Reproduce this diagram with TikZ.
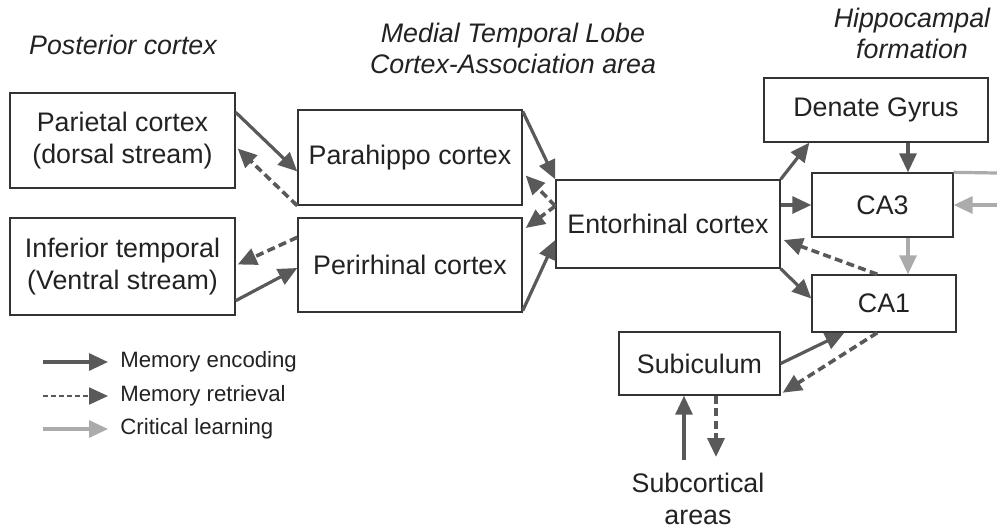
\documentclass[tikz,border=0pt]{standalone}
\usepackage{fontspec}
\setmainfont{Liberation Sans}
\usepackage{xcolor}
\usetikzlibrary{arrows.meta,calc}
\definecolor{ink}    {HTML}{222222}
\definecolor{frame}  {HTML}{333333}
\definecolor{encgray}{HTML}{595959}
\definecolor{lightgr}{HTML}{ABABAB}
\tikzset{
  box/.style     ={draw=frame, fill=white, line width=0.7pt, inner sep=2pt,
                   align=center, text=ink,
                   font=\fontsize{13.4}{16}\selectfont},
  head/.style    ={align=center, text=ink, inner sep=0pt,
                   font=\fontsize{13.4}{15.5}\selectfont\itshape},
  legtext/.style ={anchor=west, text=ink, inner sep=0pt,
                   font=\fontsize{11.1}{13}\selectfont},
  encarr/.style  ={-{Triangle[length=9.5pt,width=8.5pt]}, line width=1.6pt,
                   color=encgray},
  retarr/.style  ={encarr, line width=1.8pt, dash pattern=on 4pt off 2.2pt},
  critarr/.style ={encarr, color=lightgr},
}

\begin{document}
\begin{tikzpicture}[x=0.5pt,y=-0.5pt]
  \useasboundingbox (0,0) rectangle (997,527);

  % column headings
  \node[head] (hpost) at (123,45) {Posterior cortex};
  \node[head] (hmed)  at (513,48) {Medial Temporal Lobe\\Cortex-Association area};
  \node[head] (hhip)  at (912,33) {Hippocampal\\formation};

  % boxes
  \node[box,minimum width=112.5pt,minimum height=47.5pt] (pc)  at (122.5,140.5) {Parietal cortex\\(dorsal stream)};
  \node[box,minimum width=112.5pt,minimum height=48.5pt] (it)  at (122.5,266.5) {Inferior temporal\\(Ventral stream)};
  \node[box,minimum width=112pt,minimum height=47.5pt]   (ph)  at (410,157.5) {Parahippo cortex};
  \node[box,minimum width=112pt,minimum height=47pt]     (pr)  at (410,265) {Perirhinal cortex};
  \node[box,minimum width=112pt,minimum height=44pt]     (ec)  at (668,224) {Entorhinal cortex};
  \node[box,minimum width=112pt,minimum height=32pt]     (dg)  at (876,110) {Denate Gyrus};
  \node[box,minimum width=70.5pt,minimum height=32pt]    (ca3) at (882.5,205) {CA3};
  \node[box,minimum width=72pt,minimum height=28.5pt]    (ca1) at (884,303.5) {CA1};
  \node[box,minimum width=80.5pt,minimum height=31.5pt]  (sub) at (699.5,363.5) {Subiculum};
  \node[box,draw=none,fill=none,inner sep=0pt,anchor=north] (sc) at (698,472) {Subcortical\\areas};

  % posterior cortex <-> MTL
  \draw[encarr] ($(pc.north east)+(0,20)$) -- ($(ph.west)+(0,14)$);
  \draw[retarr] (ph.south west) -- ($(pc.east)+(2,8)$);
  \draw[retarr] ($(pr.north west)+(0,20)$) -- ($(it.east)+(2,-2)$);
  \draw[encarr] ($(it.south east)+(0,-15)$) -- ($(pr.west)+(0,3)$);

  % MTL <-> entorhinal
  \draw[encarr] ($(ph.north east)+(0,2)$) -- (ec.north west);
  \draw[retarr] ($(ec.west)+(0,-18)$) -- ($(ph.east)+(3,18)$);
  \draw[retarr] ($(ec.west)+(0,-18)$) -- ($(pr.east)+(3,-37)$);
  \draw[encarr] ($(pr.south east)+(0,-2)$) -- ($(ec.west)+(0,16)$);

  % entorhinal <-> hippocampus
  \draw[encarr] (ec.north east) -- ($(dg.south west)+(46,0)$);
  \draw[encarr] ($(ec.east)+(0,-19)$) -- (ca3.west);
  \draw[encarr] (ec.south east) -- ($(ca1.west)+(0,-5)$);
  \draw[retarr] ($(ca1.north west)+(66,0)$) -- ($(ec.east)+(3,16)$);
  \draw[encarr] ($(dg.south)+(32,0)$) -- ($(ca3.north)+(25.5,0)$);
  \draw[critarr] ($(ca3.south)+(25.5,0)$) -- ($(ca1.north)+(24,0)$);

  % recurrent input on CA3
  \coordinate (rtop) at (997,173);
  \coordinate (rmid) at (997,205);
  \draw[critarr,-] (ca3.north east) -- (rtop);
  \draw[critarr] (rmid) -- (ca3.east);

  % subiculum
  \draw[encarr] (sub.east) -- ($(ca1.south west)+(33,0)$);
  \draw[retarr] ($(ca1.south west)+(66,0)$) -- ($(sub.south east)+(2,-3)$);
  \draw[encarr] ($(sc.north)+(-14,-12)$) -- ($(sub.south)+(-15.5,0)$);
  \draw[retarr] ($(sub.south)+(16.5,0)$) -- ($(sc.north)+(18,-15)$);

  % legend
  \node[legtext] (lenc) at (120,362) {Memory encoding};
  \node[legtext] (lret) at (120,396) {Memory retrieval};
  \node[legtext] (lcri) at (120,429) {Critical learning};
  \coordinate (s1) at (43,362);
  \coordinate (s2) at (43,396);
  \coordinate (s3) at (43,429);
  \draw[encarr]  (s1) -- ($(lenc.west)+(-12,0)$);
  \draw[retarr,line width=1.1pt,dash pattern=on 2.5pt off 1.5pt] (s2) -- ($(lret.west)+(-12,0)$);
  \draw[critarr] (s3) -- ($(lcri.west)+(-12,0)$);
\end{tikzpicture}
\end{document}
